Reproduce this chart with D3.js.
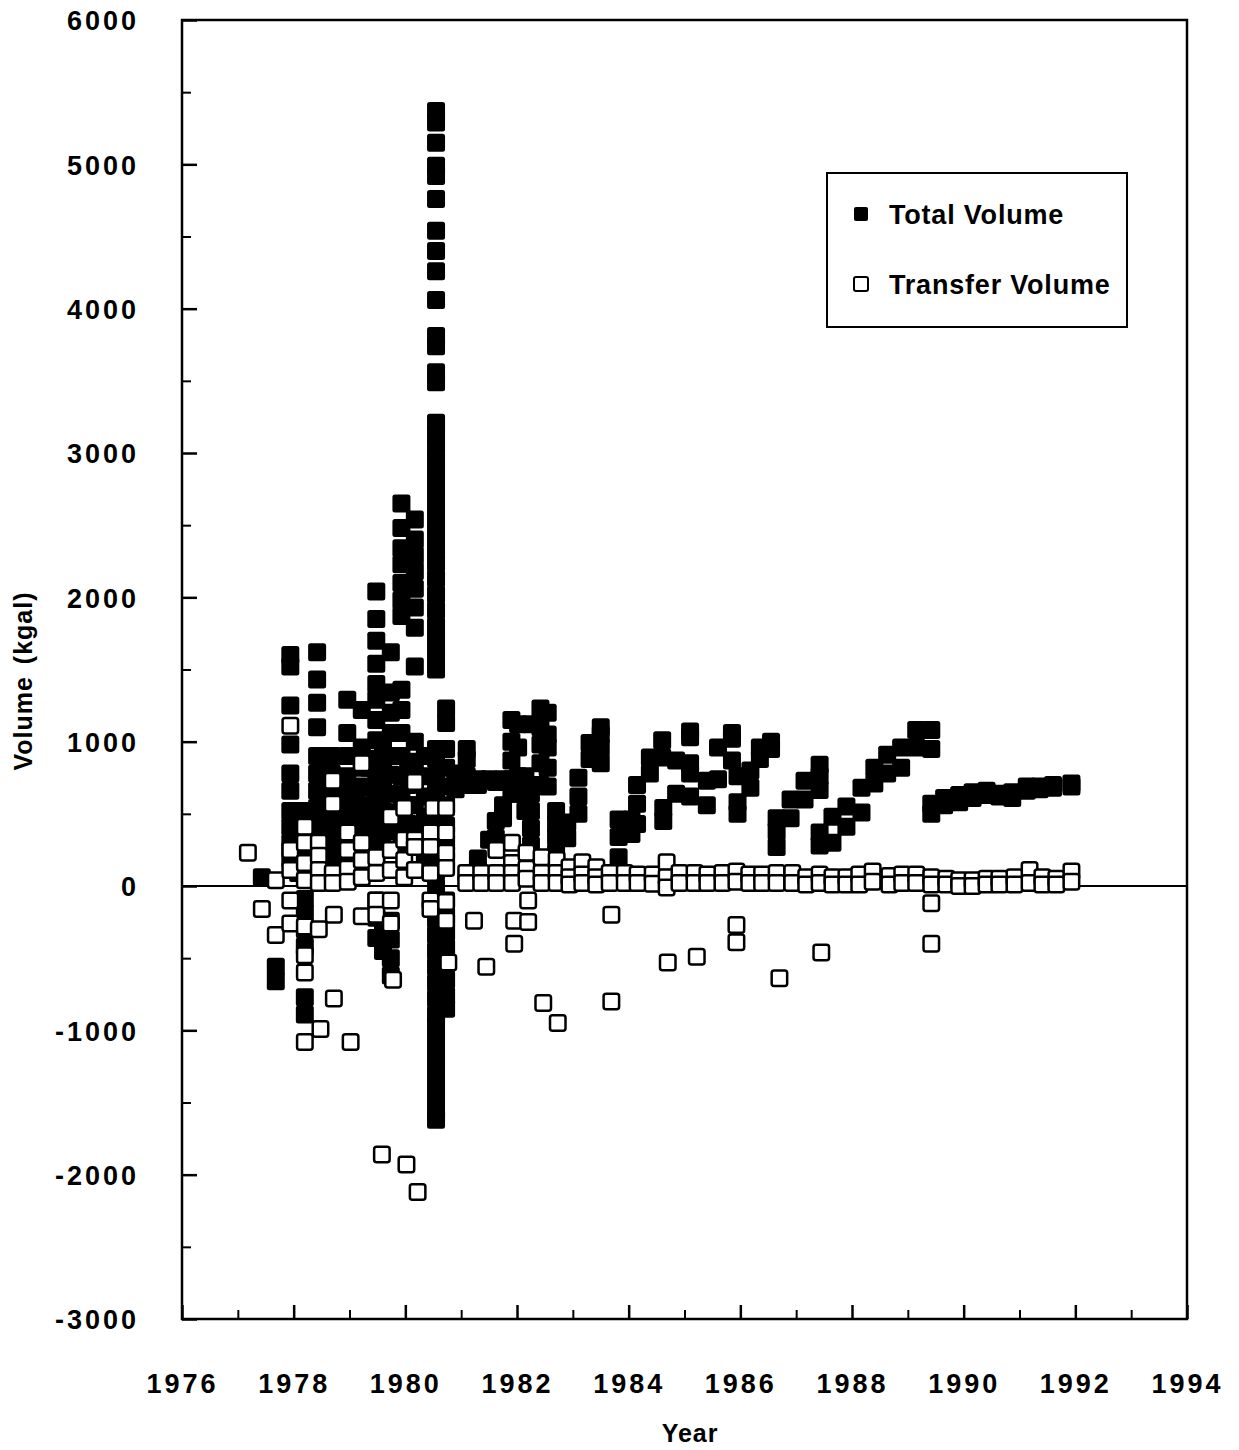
<!DOCTYPE html>
<html>
<head>
<meta charset="utf-8">
<script src="https://cdn.jsdelivr.net/npm/d3@7"></script>
<style>
  body { margin: 0; background: #fff; }
  text { font-family: "Liberation Sans", Arial, sans-serif; font-weight: bold; fill: #000; }
</style>
</head>
<body>
<div id="chart"></div>
<script>
// tick values
var yMajorTicks = [-3000, -2000, -1000, 0, 1000, 2000, 3000, 4000, 5000, 6000];
var yMinorTicks = [-2500, -1500, -500, 500, 1500, 2500, 3500, 4500, 5500];
var xMajorTicks = [1976, 1978, 1980, 1982, 1984, 1986, 1988, 1990, 1992, 1994];
var xMinorTicks = [1977, 1979, 1981, 1983, 1985, 1987, 1989, 1991, 1993];

// [year, kgal]
var totalVolume = [
  [1977.43, 60],
  [1977.68, -560], [1977.68, -660],
  [1977.94, 1600], [1977.94, 1520], [1977.94, 1250], [1977.94, 980], [1977.94, 780], [1977.94, 660],
  [1977.94, 520], [1977.94, 410], [1977.94, 300], [1977.94, 190],
  [1978.08, 450], [1978.08, 330], [1978.08, 210], [1978.08, 90],
  [1978.2, 520], [1978.2, 420], [1978.2, 320], [1978.2, 220], [1978.2, 120], [1978.2, -90],
  [1978.2, -190], [1978.2, -300], [1978.2, -420], [1978.2, -770], [1978.2, -890],
  [1978.42, 1620], [1978.42, 1430], [1978.42, 1270], [1978.42, 1100], [1978.42, 900], [1978.42, 780],
  [1978.42, 660], [1978.42, 540], [1978.42, 430], [1978.42, 320], [1978.42, 200],
  [1978.55, 480], [1978.55, 360], [1978.55, 240], [1978.55, 120],
  [1978.68, 900], [1978.68, 780], [1978.68, 650], [1978.68, 520], [1978.68, 400], [1978.68, 260], [1978.68, 140],
  [1978.82, 700], [1978.82, 560], [1978.82, 430], [1978.82, 300], [1978.82, 170],
  [1978.96, 1290], [1978.96, 1060], [1978.96, 900], [1978.96, 760], [1978.96, 620], [1978.96, 480],
  [1978.96, 350], [1978.96, 220],
  [1979.1, 640], [1979.1, 500], [1979.1, 370], [1979.1, 240], [1979.1, 110],
  [1979.22, 1220], [1979.22, 960], [1979.22, 820], [1979.22, 690], [1979.22, 560], [1979.22, 430],
  [1979.22, 300], [1979.22, 160],
  [1979.35, 820], [1979.35, 680], [1979.35, 540], [1979.35, 400], [1979.35, 270], [1979.35, 140],
  [1979.48, 2040], [1979.48, 1850], [1979.48, 1700], [1979.48, 1540], [1979.48, 1400], [1979.48, 1290],
  [1979.48, 1150], [1979.48, 1010], [1979.48, 880], [1979.48, 740], [1979.48, 600], [1979.48, 470],
  [1979.48, 340], [1979.48, 210], [1979.48, -100], [1979.48, -220], [1979.48, -360],
  [1979.6, 950], [1979.6, 800], [1979.6, 660], [1979.6, 520], [1979.6, 390], [1979.6, 260],
  [1979.6, -300], [1979.6, -450],
  [1979.74, 1620], [1979.74, 1340], [1979.74, 1200], [1979.74, 1060], [1979.74, 900], [1979.74, 770],
  [1979.74, 640], [1979.74, 510], [1979.74, 380], [1979.74, -240], [1979.74, -370], [1979.74, -500], [1979.74, -620],
  [1979.93, 2650], [1979.93, 2480], [1979.93, 2340], [1979.93, 2230], [1979.93, 2100], [1979.93, 1980],
  [1979.93, 1870], [1979.93, 1360], [1979.93, 1220], [1979.93, 1060], [1979.93, 900], [1979.93, 760],
  [1979.93, 620], [1979.93, 480], [1979.93, 350],
  [1980.05, 840], [1980.05, 700], [1980.05, 560], [1980.05, 430], [1980.05, 300],
  [1980.17, 2540], [1980.17, 2400], [1980.17, 2290], [1980.17, 2180], [1980.17, 2060], [1980.17, 1930],
  [1980.17, 1790], [1980.17, 1520], [1980.17, 1000], [1980.17, 860], [1980.17, 720], [1980.17, 560], [1980.17, 420],
  [1980.35, 900], [1980.35, 760], [1980.35, 620], [1980.35, 480], [1980.35, 340], [1980.35, 200],
  [1980.55, 5370], [1980.55, 5290], [1980.55, 5150], [1980.55, 4990], [1980.55, 4920], [1980.55, 4760],
  [1980.55, 4540], [1980.55, 4400], [1980.55, 4260], [1980.55, 4060], [1980.55, 3810], [1980.55, 3740],
  [1980.55, 3560], [1980.55, 3490], [1980.55, 3210], [1980.55, 3130], [1980.55, 3040], [1980.55, 2940],
  [1980.55, 2840], [1980.55, 2740], [1980.55, 2640], [1980.55, 2540], [1980.55, 2440], [1980.55, 2340],
  [1980.55, 2240], [1980.55, 2130], [1980.55, 2020], [1980.55, 1910], [1980.55, 1800], [1980.55, 1700],
  [1980.55, 1600], [1980.55, 1500], [1980.55, 950], [1980.55, 880], [1980.55, 760], [1980.55, 650],
  [1980.55, 540], [1980.55, 430], [1980.55, 320], [1980.55, 210], [1980.55, 100], [1980.55, -10],
  [1980.55, -120], [1980.55, -230], [1980.55, -340], [1980.55, -450], [1980.55, -560], [1980.55, -670],
  [1980.55, -780], [1980.55, -890], [1980.55, -960], [1980.55, -1060], [1980.55, -1160], [1980.55, -1260],
  [1980.55, -1360], [1980.55, -1460], [1980.55, -1560], [1980.55, -1620],
  [1980.73, 1230], [1980.73, 1130], [1980.73, 950], [1980.73, 820], [1980.73, 690], [1980.73, 560],
  [1980.73, 420], [1980.73, 300], [1980.73, 180], [1980.73, -100], [1980.73, -210], [1980.73, -320],
  [1980.73, -430], [1980.73, -540], [1980.73, -650], [1980.73, -760], [1980.73, -850],
  [1980.9, 780], [1980.9, 720], [1980.9, 670],
  [1981.1, 950], [1981.1, 880], [1981.1, 760], [1981.1, 700],
  [1981.3, 740], [1981.3, 700], [1981.3, 190], [1981.3, 110],
  [1981.5, 740], [1981.5, 320],
  [1981.62, 720], [1981.62, 450], [1981.62, 330],
  [1981.75, 740], [1981.75, 560], [1981.75, 470],
  [1981.9, 1150], [1981.9, 1000], [1981.9, 870], [1981.9, 740], [1981.9, 640],
  [1982.02, 1120], [1982.02, 960], [1982.02, 760], [1982.02, 640],
  [1982.15, 760], [1982.15, 640], [1982.15, 520],
  [1982.25, 1120], [1982.25, 640], [1982.25, 520], [1982.25, 400], [1982.25, 280],
  [1982.42, 1230], [1982.42, 1100], [1982.42, 980], [1982.42, 850], [1982.42, 700],
  [1982.55, 1200], [1982.55, 1050], [1982.55, 960], [1982.55, 820], [1982.55, 690],
  [1982.7, 520], [1982.7, 430], [1982.7, 340], [1982.7, 230],
  [1982.9, 440], [1982.9, 330],
  [1983.1, 750], [1983.1, 620], [1983.1, 500],
  [1983.3, 990], [1983.3, 880],
  [1983.5, 1100], [1983.5, 1050], [1983.5, 960], [1983.5, 850],
  [1983.82, 460], [1983.82, 340], [1983.82, 200],
  [1984.05, 460], [1984.05, 360],
  [1984.15, 700], [1984.15, 570], [1984.15, 430],
  [1984.38, 890], [1984.38, 780],
  [1984.6, 1010], [1984.6, 890], [1984.62, 540], [1984.62, 450],
  [1984.85, 870], [1984.85, 640],
  [1985.1, 1070], [1985.1, 1030], [1985.1, 850], [1985.1, 780], [1985.1, 620],
  [1985.4, 730], [1985.4, 560],
  [1985.6, 960], [1985.6, 740],
  [1985.85, 1060], [1985.85, 1020], [1985.85, 870],
  [1985.95, 760], [1985.95, 580], [1985.95, 500],
  [1986.18, 800], [1986.18, 680],
  [1986.35, 960], [1986.35, 880],
  [1986.55, 1000], [1986.55, 950],
  [1986.65, 470], [1986.65, 380], [1986.65, 270],
  [1986.9, 600], [1986.9, 470],
  [1987.15, 730], [1987.15, 600],
  [1987.42, 840], [1987.42, 760], [1987.42, 665], [1987.42, 370], [1987.42, 280],
  [1987.65, 480], [1987.65, 300],
  [1987.9, 550], [1987.9, 410],
  [1988.17, 680], [1988.17, 510],
  [1988.4, 820], [1988.4, 710],
  [1988.63, 910], [1988.63, 780],
  [1988.88, 960], [1988.88, 820],
  [1989.15, 1080], [1989.15, 960],
  [1989.42, 1080], [1989.42, 950], [1989.42, 570], [1989.42, 500],
  [1989.65, 610], [1989.65, 560],
  [1989.92, 630], [1989.92, 580],
  [1990.16, 650], [1990.16, 610],
  [1990.41, 660], [1990.41, 630],
  [1990.64, 640], [1990.64, 620],
  [1990.87, 650], [1990.87, 610],
  [1991.13, 690], [1991.13, 660],
  [1991.36, 690], [1991.36, 670],
  [1991.6, 700], [1991.6, 680],
  [1991.93, 710], [1991.93, 690]
];

var transferVolume = [
  [1977.18, 230], [1977.43, -160],
  [1977.68, 40], [1977.68, -340],
  [1977.94, 1110], [1977.94, 250], [1977.94, 110], [1977.94, -100], [1977.94, -260],
  [1978.2, 410], [1978.2, 300], [1978.2, 160], [1978.2, 40], [1978.2, -280], [1978.2, -480],
  [1978.2, -600], [1978.2, -1080],
  [1978.45, 300], [1978.45, 210], [1978.45, 110], [1978.45, 20], [1978.45, -300], [1978.48, -990],
  [1978.7, 730], [1978.7, 570], [1978.7, 90], [1978.7, 20], [1978.72, -200], [1978.72, -780],
  [1978.97, 370], [1978.97, 250], [1978.97, 120], [1978.97, 30], [1979.02, -1080],
  [1979.22, 850], [1979.22, 300], [1979.22, 180], [1979.22, 60], [1979.22, -210],
  [1979.48, 200], [1979.48, 90], [1979.48, -100], [1979.48, -200], [1979.58, -1860],
  [1979.74, 480], [1979.74, 250], [1979.74, 110], [1979.74, -100], [1979.74, -260], [1979.78, -650],
  [1979.98, 540], [1979.98, 320], [1979.98, 180], [1979.98, 60], [1980.02, -1930],
  [1980.17, 720], [1980.17, 320], [1980.17, 270], [1980.17, 110], [1980.22, -2120],
  [1980.45, 370], [1980.45, 270], [1980.45, 90], [1980.45, -100], [1980.45, -160], [1980.5, 540],
  [1980.73, 540], [1980.73, 370], [1980.73, 230], [1980.73, 125], [1980.73, -110], [1980.73, -240],
  [1980.77, -530],
  [1981.09, 90], [1981.09, 20], [1981.23, -240],
  [1981.36, 90], [1981.36, 20], [1981.45, -560],
  [1981.63, 250], [1981.63, 90], [1981.63, 20],
  [1981.91, 300], [1981.91, 160], [1981.91, 90], [1981.91, 20], [1981.95, -240], [1981.95, -400],
  [1982.17, 230], [1982.17, 120], [1982.17, 50], [1982.2, -100], [1982.2, -250],
  [1982.44, 200], [1982.44, 90], [1982.44, 20], [1982.47, -810],
  [1982.71, 180], [1982.71, 90], [1982.71, 20], [1982.73, -950],
  [1982.94, 130], [1982.94, 60], [1982.94, 10],
  [1983.17, 165], [1983.17, 80], [1983.17, 20],
  [1983.42, 130], [1983.42, 60], [1983.42, 10],
  [1983.66, 90], [1983.66, 20], [1983.69, -200], [1983.69, -800],
  [1983.93, 90], [1983.93, 20],
  [1984.16, 80], [1984.16, 20],
  [1984.43, 80], [1984.43, 15],
  [1984.68, 165], [1984.68, 60], [1984.68, -10], [1984.7, -530],
  [1984.91, 90], [1984.91, 20],
  [1985.18, 90], [1985.18, 20], [1985.22, -490],
  [1985.41, 80], [1985.41, 20],
  [1985.68, 90], [1985.68, 20],
  [1985.93, 100], [1985.93, 30], [1985.93, -270], [1985.93, -390],
  [1986.16, 80], [1986.16, 20],
  [1986.39, 80], [1986.39, 20],
  [1986.65, 90], [1986.65, 20], [1986.7, -640],
  [1986.93, 90], [1986.93, 20],
  [1987.18, 60], [1987.18, 10],
  [1987.42, 80], [1987.42, 20], [1987.45, -460],
  [1987.65, 60], [1987.65, 10],
  [1987.9, 60], [1987.9, 10],
  [1988.13, 80], [1988.13, 10],
  [1988.37, 100], [1988.37, 30],
  [1988.67, 70], [1988.67, 10],
  [1988.9, 80], [1988.9, 20],
  [1989.15, 80], [1989.15, 20],
  [1989.42, 60], [1989.42, 10], [1989.42, -120], [1989.42, -400],
  [1989.69, 50], [1989.69, 10],
  [1989.92, 40], [1989.92, 0],
  [1990.16, 40], [1990.16, 0],
  [1990.41, 50], [1990.41, 10],
  [1990.64, 50], [1990.64, 10],
  [1990.91, 60], [1990.91, 10],
  [1991.18, 110], [1991.18, 20],
  [1991.41, 60], [1991.41, 10],
  [1991.66, 50], [1991.66, 10],
  [1991.93, 100], [1991.93, 30]
];

var legendLabels = ["Total Volume", "Transfer Volume"];

var svgWidth = 1239;
var svgHeight = 1450;

var margin = {
  top: 20,
  right: 52,
  bottom: 131,
  left: 182
};

var width = svgWidth - margin.left - margin.right;
var height = svgHeight - margin.top - margin.bottom;

var svg = d3.select("#chart")
  .append("svg")
  .attr("width", svgWidth)
  .attr("height", svgHeight);

var chartGroup = svg.append("g")
  .attr("transform", `translate(${margin.left}, ${margin.top})`);

var xScale = d3.scaleLinear().domain([1976, 1994]).range([0, width]);
var yScale = d3.scaleLinear().domain([-3000, 6000]).range([height, 0]);

// frame
chartGroup.append("rect")
  .attr("x", 0).attr("y", 0)
  .attr("width", width).attr("height", height)
  .attr("fill", "none")
  .attr("stroke", "#000")
  .attr("stroke-width", 2.5);

// y axis, ticks pointing inward; plain hyphen for negatives
var leftAxis = d3.axisLeft(yScale)
  .tickValues(yMajorTicks)
  .tickSize(-15)
  .tickPadding(43)
  .tickFormat(d => String(d));

var yAxisG = chartGroup.append("g").call(leftAxis);
yAxisG.select(".domain").remove();
yAxisG.selectAll("line").attr("stroke-width", 2.5);
yAxisG.selectAll("text")
  .style("font-size", "27px")
  .style("letter-spacing", "3px")
  .attr("dy", "0.36em");

var yMinorG = chartGroup.append("g")
  .call(d3.axisLeft(yScale).tickValues(yMinorTicks).tickSize(-9).tickFormat(""));
yMinorG.select(".domain").remove();
yMinorG.selectAll("line").attr("stroke-width", 2);

// x axis, ticks pointing up
var bottomAxis = d3.axisBottom(xScale)
  .tickValues(xMajorTicks)
  .tickSize(-14)
  .tickPadding(55)
  .tickFormat(d => String(d));

var xAxisG = chartGroup.append("g")
  .attr("transform", `translate(0, ${height})`)
  .call(bottomAxis);
xAxisG.select(".domain").remove();
xAxisG.selectAll("line").attr("stroke-width", 2.5);
xAxisG.selectAll("text")
  .style("font-size", "27px")
  .style("letter-spacing", "3px");

var xMinorG = chartGroup.append("g")
  .attr("transform", `translate(0, ${height})`)
  .call(d3.axisBottom(xScale).tickValues(xMinorTicks).tickSize(-9).tickFormat(""));
xMinorG.select(".domain").remove();
xMinorG.selectAll("line").attr("stroke-width", 2);

// zero line
chartGroup.append("line")
  .attr("x1", 0).attr("x2", width)
  .attr("y1", yScale(0)).attr("y2", yScale(0))
  .attr("stroke", "#000")
  .attr("stroke-width", 1.8);

var size = 18;

chartGroup.selectAll("rect.total")
  .data(totalVolume)
  .enter()
  .append("rect")
  .classed("total", true)
  .attr("x", d => xScale(d[0]) - size / 2)
  .attr("y", d => yScale(d[1]) - size / 2)
  .attr("width", size)
  .attr("height", size)
  .attr("rx", 2.5)
  .attr("fill", "#000");

chartGroup.selectAll("rect.transfer")
  .data(transferVolume)
  .enter()
  .append("rect")
  .classed("transfer", true)
  .attr("x", d => xScale(d[0]) - (size - 2.5) / 2)
  .attr("y", d => yScale(d[1]) - (size - 2.5) / 2)
  .attr("width", size - 2.5)
  .attr("height", size - 2.5)
  .attr("rx", 2.5)
  .attr("fill", "#fff")
  .attr("stroke", "#000")
  .attr("stroke-width", 2.5);

// axis titles
chartGroup.append("text")
  .attr("transform", "rotate(-90)")
  .attr("x", -(yScale(0) - 205))
  .attr("y", 32 - margin.left)
  .attr("text-anchor", "middle")
  .style("font-size", "25px")
  .style("letter-spacing", "1px")
  .style("word-spacing", "4px")
  .text("Volume (kgal)");

chartGroup.append("text")
  .attr("x", xScale(1985.1))
  .attr("y", height + 123)
  .attr("text-anchor", "middle")
  .style("font-size", "25px")
  .style("letter-spacing", "1px")
  .text("Year");

// legend
var legend = svg.append("g").attr("transform", "translate(827, 173)");
legend.append("rect")
  .attr("width", 300).attr("height", 154)
  .attr("fill", "#fff")
  .attr("stroke", "#000")
  .attr("stroke-width", 2);

var legendItems = legend.selectAll("g.item")
  .data(legendLabels)
  .enter()
  .append("g")
  .classed("item", true)
  .attr("transform", (d, i) => `translate(0, ${41 + i * 70})`);

legendItems.append("rect")
  .attr("x", 27).attr("y", -7)
  .attr("width", 14).attr("height", 14)
  .attr("rx", 2)
  .attr("fill", (d, i) => i === 0 ? "#000" : "#fff")
  .attr("stroke", "#000")
  .attr("stroke-width", (d, i) => i === 0 ? 0 : 2);

legendItems.append("text")
  .attr("x", 62)
  .attr("y", 10)
  .style("font-size", "27px")
  .style("letter-spacing", "0.8px")
  .text(d => d);
</script>
</body>
</html>
